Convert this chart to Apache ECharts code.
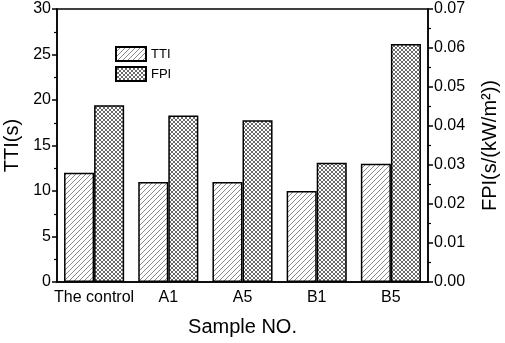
<!DOCTYPE html>
<html>
<head>
<meta charset="utf-8">
<script src="https://cdn.jsdelivr.net/npm/echarts@6/dist/echarts.min.js"></script>
<style>
	body { margin: 0; background: #fff; }
	#chart { width: 505px; height: 343px; }
</style>
</head>
<body>
<div id="chart"></div>
<script>
	const categories = ['The control', 'A1', 'A5', 'B1', 'B5'];
	const ttiValues = [12, 11, 11, 10, 13];
	const fpiValues = [0.0453, 0.0427, 0.0415, 0.0306, 0.061];
	const ttiTicks = [0, 30, 5];
	const fpiTicks = [0, 0.07, 0.01];

	// hatch fills, drawn into small tiles
	function hatchTile(size, color, cross) {
		const c = document.createElement('canvas');
		c.width = size;
		c.height = size;
		const ctx = c.getContext('2d');
		ctx.fillStyle = '#fff';
		ctx.fillRect(0, 0, size, size);
		ctx.strokeStyle = color;
		ctx.lineWidth = 1;
		ctx.beginPath();
		ctx.moveTo(-1, size + 1);
		ctx.lineTo(size + 1, -1);
		if (cross) {
			ctx.moveTo(-1, -1);
			ctx.lineTo(size + 1, size + 1);
		}
		ctx.stroke();
		return c;
	}

	const ttiFill = { image: hatchTile(5, '#8a8a8a', false), repeat: 'repeat' };
	const fpiFill = { image: hatchTile(4, '#6a6a6a', true), repeat: 'repeat' };
	const font = 'Liberation Sans, Arial, sans-serif';

	const chart = echarts.init(document.getElementById('chart'));
	chart.setOption({
		animation: false,
		textStyle: { fontFamily: font, color: '#000' },
		grid: {
			left: 57, right: 77, top: 9, bottom: 61,
			outerBoundsMode: 'none',
			show: true, borderColor: '#000', borderWidth: 1.5
		},
		legend: {
			orient: 'vertical',
			left: 110,
			top: 41,
			itemWidth: 30,
			itemHeight: 14,
			itemGap: 4,
			icon: 'rect',
			textStyle: { fontSize: 13, fontFamily: font, color: '#000' },
			data: ['TTI', 'FPI']
		},
		xAxis: [{
				type: 'category',
				data: categories,
				name: 'Sample NO.',
				nameLocation: 'middle',
				nameGap: 35,
				nameTextStyle: { fontSize: 20, fontFamily: font, color: '#000' },
				axisLine: { lineStyle: { color: '#000', width: 1.5 } },
				axisTick: { length: 3, lineStyle: { color: '#000', width: 1.5 } },
				axisLabel: { interval: 0, fontSize: 16, margin: 8, color: '#000', fontFamily: font }
			},
			{
				type: 'category',
				data: categories,
				position: 'bottom',
				axisLine: { show: false },
				axisTick: { alignWithLabel: true, length: 5, lineStyle: { color: '#000', width: 1.5 } },
				axisLabel: { show: false }
			}
		],
		yAxis: [{
				type: 'value',
				min: ttiTicks[0],
				max: ttiTicks[1],
				interval: ttiTicks[2],
				name: 'TTI(s)',
				nameLocation: 'middle',
				nameRotate: 90,
				nameGap: 32,
				nameTextStyle: { fontSize: 20, fontFamily: font, color: '#000' },
				axisLine: { show: true, lineStyle: { color: '#000', width: 1.5 } },
				axisTick: { show: true, length: 5, lineStyle: { color: '#000', width: 1.5 } },
				minorTick: { show: true, splitNumber: 2, length: 3, lineStyle: { color: '#000', width: 1.2 } },
				splitLine: { show: false },
				axisLabel: { fontSize: 16, margin: 6, color: '#000', fontFamily: font }
			},
			{
				type: 'value',
				position: 'right',
				min: fpiTicks[0],
				max: fpiTicks[1],
				interval: fpiTicks[2],
				name: 'FPI(s/(kW/m²))',
				nameLocation: 'middle',
				nameRotate: 90,
				nameGap: 52,
				nameTextStyle: { fontSize: 20, fontFamily: font, color: '#000' },
				axisLine: { show: true, lineStyle: { color: '#000', width: 1.5 } },
				axisTick: { show: true, length: 5, lineStyle: { color: '#000', width: 1.5 } },
				minorTick: { show: true, splitNumber: 2, length: 3, lineStyle: { color: '#000', width: 1.2 } },
				splitLine: { show: false },
				axisLabel: {
					fontSize: 16, margin: 6, color: '#000', fontFamily: font,
					formatter: v => v.toFixed(2)
				}
			}
		],
		series: [{
				name: 'TTI',
				type: 'bar',
				yAxisIndex: 0,
				barGap: '0%',
				barCategoryGap: '19%',
				data: ttiValues,
				itemStyle: { color: ttiFill, borderColor: '#000', borderWidth: 1.5 }
			},
			{
				name: 'FPI',
				type: 'bar',
				yAxisIndex: 1,
				barGap: '0%',
				barCategoryGap: '19%',
				data: fpiValues,
				itemStyle: { color: fpiFill, borderColor: '#000', borderWidth: 1.5 }
			}
		]
	});
</script>
</body>
</html>
